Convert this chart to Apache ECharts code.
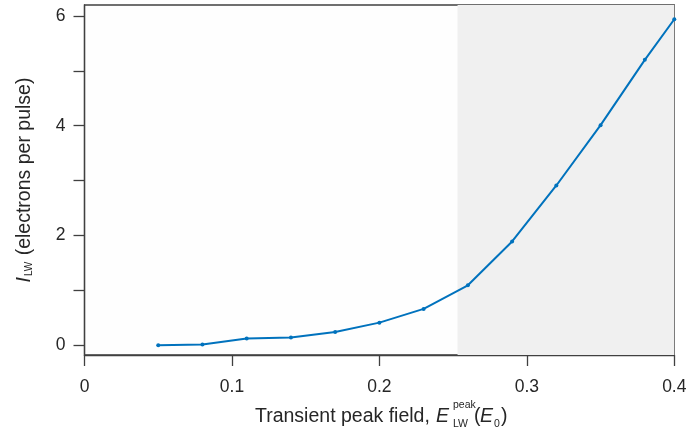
<!DOCTYPE html>
<html>
<head>
<meta charset="utf-8">
<script src="https://cdn.jsdelivr.net/npm/echarts@6/dist/echarts.min.js"></script>
<style>
html,body{margin:0;padding:0;background:#fff;}
#chart{width:690px;height:441px;}
</style>
</head>
<body>
<div id="chart"></div>
<script>
// Data
var fieldPeak = [0.05, 0.08, 0.11, 0.14, 0.17, 0.20, 0.23, 0.26, 0.29, 0.32, 0.35, 0.38, 0.40];
var electrons = [0.00, 0.01, 0.12, 0.14, 0.24, 0.41, 0.66, 1.09, 1.89, 2.91, 4.01, 5.20, 5.94];
var shadedRange = [0.253, 0.4];
var yTickValues = [0, 1, 2, 3, 4, 5, 6];
var yLabelValues = [0, 2, 4, 6];

var seriesData = fieldPeak.map(function (x, i) { return [x, electrons[i]]; });

var FONT = '"Liberation Sans", Arial, Helvetica, sans-serif';
var TXT = '#262626';
var AX = '#404040';

var chart = echarts.init(document.getElementById('chart'), null, {renderer: 'canvas'});
chart.setOption({
  animation: false,
  backgroundColor: '#ffffff',
  grid: {
    left: 84.5, right: 15.7, top: 5, bottom: 86,
    show: true, borderColor: AX, borderWidth: 1.3, backgroundColor: '#fefefe'
  },
  xAxis: {
    type: 'value', min: 0, max: 0.4, interval: 0.1,
    axisLine: {show: true, onZero: false, lineStyle: {color: AX, width: 1.3}},
    axisTick: {show: true, inside: false, length: 11, lineStyle: {color: AX, width: 1.3}},
    axisLabel: {color: TXT, fontFamily: FONT, fontSize: 17.5, margin: 23,
      formatter: function (v) { return v === 0 ? '0' : String(+v.toFixed(1)); }},
    splitLine: {show: false}
  },
  yAxis: {
    type: 'value', min: -0.18, max: 6.2,
    axisLine: {show: true, onZero: false, lineStyle: {color: AX, width: 1.3}},
    axisTick: {show: true, length: 11, customValues: yTickValues, lineStyle: {color: AX, width: 1.3}},
    axisLabel: {color: TXT, fontFamily: FONT, fontSize: 17.5, margin: 19, customValues: yLabelValues},
    splitLine: {show: false},
    name: '{it|I}{sub|LW} (electrons per pulse)',
    nameLocation: 'middle', nameRotate: 90, nameGap: 50,
    nameTextStyle: {
      color: TXT, fontFamily: FONT, fontSize: 19.5,
      rich: {
        it: {fontStyle: 'italic', fontSize: 19.5, fontFamily: FONT, color: TXT},
        sub: {fontSize: 10, fontFamily: FONT, color: TXT, padding: [10, 1, 0, 1]}
      }
    }
  },
  series: [{
    type: 'line',
    data: seriesData,
    symbol: 'circle', symbolSize: 4,
    lineStyle: {color: '#0072BD', width: 2},
    itemStyle: {color: '#0072BD'},
    markArea: {
      silent: true,
      itemStyle: {color: '#f0f0f0'},
      data: [[{xAxis: shadedRange[0]}, {xAxis: shadedRange[1]}]]
    },
    z: 3
  }],
  graphic: [{
    type: 'group', left: 255, top: 400,
    children: [
      {type: 'text', x: 0, y: 9, style: {text: 'Transient peak field,', font: '19.5px ' + FONT, fill: TXT}},
      {type: 'text', x: 181, y: 9, style: {text: 'E', font: 'italic 19.5px ' + FONT, fill: TXT}},
      {type: 'text', x: 198, y: 2, style: {text: 'peak', font: '10.5px ' + FONT, fill: TXT}},
      {type: 'text', x: 198, y: 21, style: {text: 'LW', font: '10.5px ' + FONT, fill: TXT}},
      {type: 'text', x: 219, y: 9, style: {text: '(', font: '19.5px ' + FONT, fill: TXT}},
      {type: 'text', x: 225, y: 9, style: {text: 'E', font: 'italic 19.5px ' + FONT, fill: TXT}},
      {type: 'text', x: 239, y: 21, style: {text: '0', font: '10.5px ' + FONT, fill: TXT}},
      {type: 'text', x: 246, y: 9, style: {text: ')', font: '19.5px ' + FONT, fill: TXT}}
    ]
  }]
});
</script>
</body>
</html>
